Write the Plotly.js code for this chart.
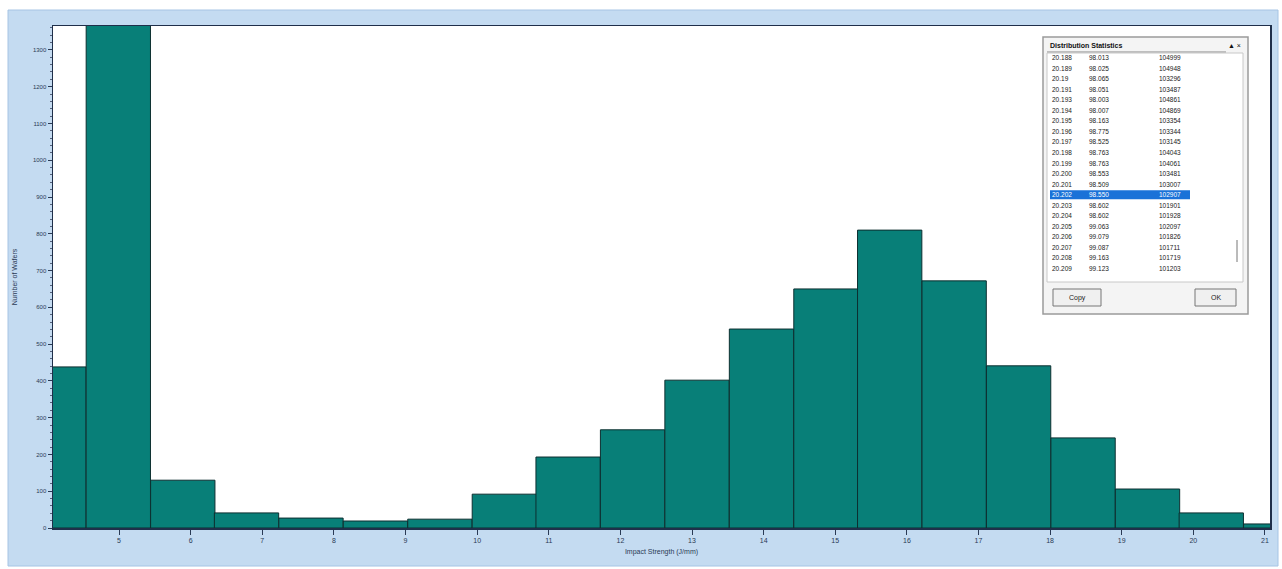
<!DOCTYPE html>
<html>
<head>
<meta charset="utf-8">
<script src="https://cdn.plot.ly/plotly-3.0.1.min.js"></script>
<style>html,body{margin:0;padding:0;background:#fff;}#chart{width:1282px;height:569px;}</style>
</head>
<body>
<div id="chart"></div>
<script>
// ---- data ----
const binCenters = [4.09, 4.99, 5.89, 6.78, 7.68, 8.58, 9.48, 10.38, 11.27, 12.17, 13.07, 13.97, 14.87, 15.76, 16.66, 17.56, 18.46, 19.36, 20.25, 21.15];
const binCounts  = [438, 1420, 130, 41, 27, 19, 24, 92, 193, 267, 402, 541, 650, 810, 672, 441, 245, 106, 41, 11];
const binWidth = 0.898;
const xTickVals = [5, 6, 7, 8, 9, 10, 11, 12, 13, 14, 15, 16, 17, 18, 19, 20, 21];
const yTickVals = [0, 100, 200, 300, 400, 500, 600, 700, 800, 900, 1000, 1100, 1200, 1300];
const xTitle = "Impact Strength (J/mm)";
const yTitle = "Number of Wafers";
const dialogTitle = "Distribution Statistics";
const statCol1 = ["20.188","20.189","20.19","20.191","20.193","20.194","20.195","20.196","20.197","20.198","20.199","20.200","20.201","20.202","20.203","20.204","20.205","20.206","20.207","20.208","20.209"];
const statCol2 = ["98.013","98.025","98.065","98.051","98.003","98.007","98.163","98.775","98.525","98.763","98.763","98.553","98.509","98.550","98.602","98.602","99.063","99.079","99.087","99.163","99.123"];
const statCol3 = ["104999","104948","103296","103487","104861","104869","103354","103344","103145","104043","104061","103481","103007","102907","101901","101928","102097","101826","101711","101719","101203"];
const highlightRow = 13;

// ---- layout helpers (pixel -> paper) ----
const L = 53, R = 12, T = 26, B = 41, W = 1282, H = 569;
const PW = W - L - R, PH = H - T - B;
const px = x => (x - L) / PW;
const py = y => (H - B - y) / PH;

const shapes = [];
const annotations = [];

// blue window frame (four bands around the plot area)
const frameColor = '#c4dbf1';
[[8, 1278, 10, 26], [8, 1278, 528, 566], [8, 53, 26, 528], [1270, 1278, 26, 528]].forEach(r => {
  shapes.push({type:'rect', xref:'paper', yref:'paper', layer:'below',
    x0:px(r[0]), x1:px(r[1]), y0:py(r[2]), y1:py(r[3]),
    fillcolor:frameColor, line:{width:0}});
});
shapes.push({type:'rect', xref:'paper', yref:'paper', layer:'below',
  x0:px(8), x1:px(1278), y0:py(10), y1:py(566),
  fillcolor:'rgba(0,0,0,0)', line:{color:'#a6c4e4', width:1}});

// dialog box
const dlg = {x0:1043, x1:1248, y0:37, y1:314};
shapes.push({type:'rect', xref:'paper', yref:'paper', layer:'above',
  x0:px(dlg.x0), x1:px(dlg.x1), y0:py(dlg.y0), y1:py(dlg.y1),
  fillcolor:'#f4f4f4', line:{color:'#9a9a9a', width:1.5}});
// title underline
shapes.push({type:'line', xref:'paper', yref:'paper', layer:'above',
  x0:px(1047), x1:px(1226), y0:py(52), y1:py(52), line:{color:'#888', width:1}});
// list area
shapes.push({type:'rect', xref:'paper', yref:'paper', layer:'above',
  x0:px(1047), x1:px(1243), y0:py(53), y1:py(282),
  fillcolor:'#ffffff', line:{color:'#c8c8c8', width:1}});
// row highlight
const rowY0 = 57.5, rowStep = 10.55;
const hy = rowY0 + highlightRow * rowStep;
shapes.push({type:'rect', xref:'paper', yref:'paper', layer:'above',
  x0:px(1050), x1:px(1190), y0:py(hy - 4.5), y1:py(hy + 4.5),
  fillcolor:'#1a72d8', line:{width:0}});
// scrollbar hint
shapes.push({type:'line', xref:'paper', yref:'paper', layer:'above',
  x0:px(1237), x1:px(1237), y0:py(240), y1:py(262), line:{color:'#777', width:1}});

const ann = (x, y, text, font, xanchor) => annotations.push({
  xref:'paper', yref:'paper', x:px(x), y:py(y), xanchor:xanchor || 'center', yanchor:'middle',
  text:text, showarrow:false, font:font});

// buttons
[[1053,1101,'Copy'],[1195,1236,'OK']].forEach(b => {
  shapes.push({type:'rect', xref:'paper', yref:'paper', layer:'above',
    x0:px(b[0]), x1:px(b[1]), y0:py(289), y1:py(306),
    fillcolor:'#f0f0f0', line:{color:'#777', width:1}});
  ann((b[0]+b[1])/2, 297.5, b[2], {size:7, color:'#222', family:'Liberation Sans, Arial'});
});
ann(1048, 46, '<b>' + dialogTitle + '</b>', {size:7, color:'#111', family:'Liberation Sans, Arial'}, 'left');
ann(1243, 46, '▲ ×', {size:7, color:'#111', family:'Liberation Sans, Arial'}, 'right');
for (let i = 0; i < statCol1.length; i++) {
  const y = rowY0 + i * rowStep;
  const c = (i === highlightRow) ? '#ffffff' : '#222';
  const f = {size:6.5, color:c, family:'Liberation Sans Narrow, Liberation Sans, Arial'};
  ann(1050, y, statCol1[i], f, 'left');
  ann(1087, y, statCol2[i], f, 'left');
  ann(1157, y, statCol3[i], f, 'left');
}

const trace = {
  type:'bar', x:binCenters, y:binCounts, width:binWidth,
  marker:{color:'#087f78', line:{color:'#0d2f30', width:1}},
  hoverinfo:'x+y'
};

const layout = {
  width:W, height:H,
  margin:{l:L, r:R, t:T, b:B, pad:0},
  paper_bgcolor:'#ffffff', plot_bgcolor:'#ffffff',
  showlegend:false, bargap:0,
  font:{family:'Liberation Sans, Arial', size:7, color:'#2a3a55'},
  xaxis:{range:[4.078, 21.07], tickvals:xTickVals, ticktext:xTickVals.map(String),
    ticks:'outside', ticklen:5, tickcolor:'#2a3a55', showgrid:false, zeroline:false,
    showline:true, linecolor:'#1f2f4a', linewidth:1.5, mirror:true,
    tickfont:{size:7, color:'#2a3a55'},
    title:{text:xTitle, font:{size:7, color:'#2a3a55'}, standoff:6}},
  yaxis:{range:[0, 1365], tickvals:yTickVals, ticktext:yTickVals.map(String),
    ticks:'outside', ticklen:4, tickcolor:'#2a3a55', showgrid:false, zeroline:false,
    showline:true, linecolor:'#1f2f4a', linewidth:1.5, mirror:true,
    minor:{ticks:'outside', ticklen:2, dtick:20, tickcolor:'#55607a'},
    tickfont:{size:6, color:'#2a3a55'},
    title:{text:yTitle, font:{size:7, color:'#2a3a55'}, standoff:14}},
  shapes:shapes, annotations:annotations
};

Plotly.newPlot('chart', [trace], layout, {displayModeBar:false, staticPlot:true});
</script>
</body>
</html>
